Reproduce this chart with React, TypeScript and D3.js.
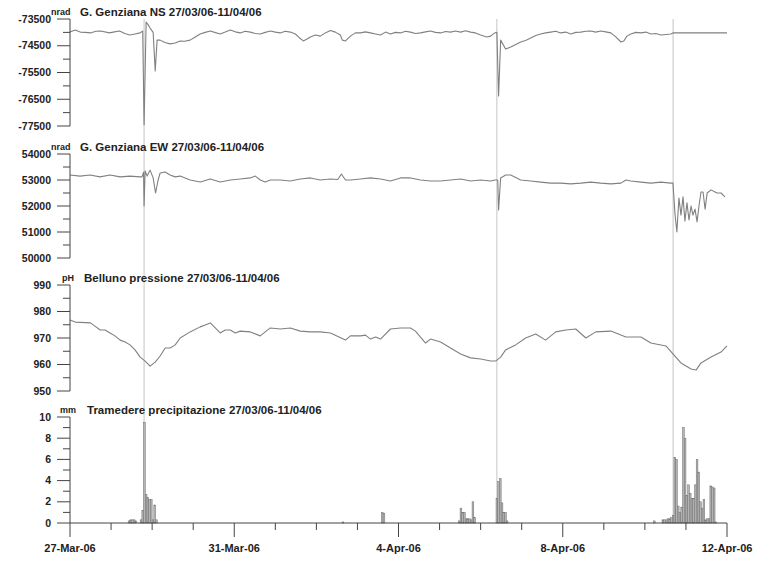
import React from "react";
import * as d3 from "d3";

// time axis: hours since 27-Mar-06 00:00
const START = Date.UTC(2006, 2, 27);
const END = Date.UTC(2006, 3, 12);

const xTickLabels = ["27-Mar-06", "31-Mar-06", "4-Apr-06", "8-Apr-06", "12-Apr-06"];

// vertical marker lines (hours)
const eventHours = [43.3, 249.5, 352.5];

// G. Genziana NS (nrad)
const nsSeries: [number, number][] = [
  [0, -73990], [3, -73910], [6, -73990], [9, -74000], [12, -74020], [15, -73960], [18, -73950],
  [23, -74020], [26, -73980], [29, -73950], [32, -74040], [35, -74100], [38, -74060], [41, -74020],
  [42.5, -73950], [43.3, -77450], [44.5, -73610], [45.7, -73720], [46.8, -73840], [48.6, -74000],
  [49.8, -75440], [50.9, -74290], [52.7, -74290], [55.5, -74380], [58.5, -74430], [61.5, -74400],
  [64.4, -74320], [67, -74330], [70.2, -74290], [73, -74180], [76.1, -74060], [79, -74000],
  [82, -73950], [85, -74010], [87.8, -74060], [90.7, -73990], [93.7, -73910], [96.6, -73980],
  [99.5, -74020], [102.4, -73960], [105.4, -73990], [108.3, -74040], [111.2, -74060],
  [114.1, -74000], [117.1, -73950], [120, -73990], [122.9, -74020], [125.8, -73960],
  [128.8, -73990], [131.7, -74060], [134, -74200], [136.4, -74320], [138.5, -74250],
  [140.5, -74170], [143.4, -74100], [146.3, -74140], [149.2, -74020], [152.2, -73930],
  [155.1, -73990], [158, -74100], [159.2, -74290], [161, -74320], [163.9, -74140],
  [166.8, -74020], [169.8, -74020], [172.7, -73980], [175.6, -74020], [178.5, -74060],
  [181.5, -74100], [184.4, -73990], [187.3, -74060], [190.2, -74000], [193.2, -74020],
  [196.1, -73960], [199, -73990], [201.9, -74040], [204.9, -74020], [207.8, -73980],
  [210.7, -73950], [213.6, -74000], [216.6, -74020], [219.5, -73970], [222.4, -73990],
  [225.3, -73950], [228.3, -73990], [231.2, -73940], [234.1, -73990], [237, -74020],
  [240, -74100], [243.5, -74170], [245.9, -74140], [248.2, -74020], [249.5, -74000],
  [250.5, -76380], [251.7, -74290], [254.6, -74620], [257.6, -74550], [260.5, -74450],
  [263.4, -74360], [266.3, -74300], [269.3, -74210], [272.2, -74120], [275.1, -74060],
  [278, -74020], [281, -73990], [283.9, -73960], [286.8, -74020], [289.7, -73990],
  [292.7, -74060], [295.6, -74000], [298.5, -73990], [301.4, -73960], [304.4, -73950],
  [307.3, -73990], [310.2, -73950], [313.1, -73980], [316.1, -74020], [319, -74170],
  [322, -74360], [323.7, -74320], [325.5, -74140], [327.8, -74060], [330.7, -74000],
  [333.7, -74020], [336.6, -73990], [339.5, -74060], [342.4, -74040], [345.4, -74100],
  [348.3, -74080], [351.2, -74060], [352.4, -74020], [384, -74020],
];

// G. Genziana EW (nrad)
const ewSeries: [number, number][] = [
  [0, 53190], [5.9, 53150], [11.7, 53190], [17.6, 53120], [23.4, 53190], [29.3, 53120],
  [35.1, 53150], [41, 53120], [42.1, 53120], [43, 53300], [43.3, 52000], [43.9, 53350],
  [45.1, 53150], [46.8, 53380], [48.6, 53080], [50, 52500], [51.5, 53000], [52.7, 53270],
  [55.6, 53310], [58.5, 53190], [61.5, 53120], [64.4, 53150], [70.2, 53000], [76.1, 52920],
  [82, 53040], [87.8, 52920], [93.7, 53000], [99.5, 53040], [105.4, 53080], [108.3, 53150],
  [111.2, 53000], [114.1, 52920], [117.1, 53000], [122.9, 53000], [128.8, 52960],
  [134.6, 53040], [140.5, 53080], [146.3, 53000], [152.2, 53040], [156.5, 53020],
  [158.6, 53230], [161, 53000], [163.9, 53000], [169.8, 53040], [175.6, 53080],
  [181.5, 53040], [187.3, 52960], [193.2, 53080], [199, 53080], [204.9, 53000],
  [210.7, 52960], [216.6, 52960], [222.4, 53000], [228.3, 53040], [234.1, 52960],
  [240, 53000], [245.9, 52960], [248.2, 53000], [250, 53000], [250.5, 51850],
  [251.7, 53080], [254.6, 53190], [257.6, 53190], [263.4, 53000], [269.3, 52960],
  [275.1, 52920], [281, 52880], [286.8, 52880], [292.7, 52850], [298.5, 52880],
  [304.4, 52920], [310.2, 52880], [316.1, 52850], [322, 52880], [324.9, 53000],
  [327.8, 52960], [333.7, 52920], [339.5, 52880], [345.4, 52920], [351.2, 52880],
  [352.4, 52880], [353.6, 51700], [354.7, 51000], [355.9, 52310], [357.1, 51650],
  [358.3, 52350], [359.4, 51420], [360.6, 52120], [361.8, 51460], [363, 52000],
  [364.1, 51650], [365.3, 51880], [366.5, 51390], [367.7, 52040], [368.8, 52540],
  [370, 52540], [371.2, 51880], [372.4, 52500], [374.7, 52620], [377, 52540],
  [378.2, 52500], [380.5, 52500], [382.8, 52350],
];

// Belluno pressione (hPa)
const pressureSeries: [number, number][] = [
  [0, 976.8], [3, 976.0], [6, 975.9], [12, 975.7], [14.6, 974.5], [17.6, 973.0], [20.5, 973.0],
  [23.4, 971.9], [26.3, 970.8], [29.3, 969.2], [32.2, 968.5], [35.1, 967.4], [38, 965.5],
  [41, 962.8], [43.9, 961.3], [46.8, 959.4], [49.8, 960.9], [52.7, 963.2], [55.6, 966.2],
  [58.5, 966.2], [61.5, 967.4], [64.4, 970.0], [70.2, 972.3], [76.1, 974.2], [79, 974.9],
  [82, 975.7], [84.9, 973.8], [87.8, 971.9], [90.7, 973.0], [93.7, 973.0], [96.6, 971.9],
  [99.5, 972.6], [105.4, 972.3], [111.2, 970.8], [114.1, 972.3], [117.1, 973.8],
  [122.9, 973.4], [128.8, 973.8], [134.6, 972.6], [140.5, 972.3], [146.3, 972.3],
  [152.2, 971.9], [161, 969.2], [163.9, 970.8], [169.8, 970.8], [172.7, 971.1],
  [175.6, 969.6], [178.6, 970.4], [181.5, 969.6], [187.3, 973.4], [193.2, 973.8],
  [199, 973.8], [201.9, 972.6], [207.8, 968.1], [210.7, 969.6], [216.6, 968.5],
  [222.4, 966.2], [228.3, 964.0], [234.1, 962.5], [240, 962.1], [245.9, 961.3],
  [248.8, 961.3], [251.7, 962.8], [254.6, 965.5], [260.5, 967.4], [266.3, 970.0],
  [272.2, 971.5], [278, 969.2], [283.9, 972.3], [289.8, 973.0], [295.6, 973.4],
  [301.5, 970.0], [307.3, 972.3], [316.1, 972.6], [324.9, 970.4], [333.7, 970.4],
  [339.5, 968.1], [348.3, 967.0], [352.4, 964.0], [357.1, 960.6], [363, 958.3],
  [365.9, 957.9], [368.8, 960.6], [374.7, 962.8], [380.5, 964.7], [384, 967.0],
];

// Tramedere precipitazione, hourly totals (mm), non-zero hours only
const rainSeries: [number, number][] = [
  [34, 0.2], [35, 0.3], [36, 0.3], [37, 0.3], [38, 0.2],
  [41, 0.3], [42, 1.2], [43, 9.5], [44, 2.7], [45, 2.4], [46, 2.2], [47, 2.2], [48, 0.3],
  [49, 1.7], [50, 0.3],
  [159, 0.1], [182, 1.0], [183, 0.9],
  [227, 0.2], [228, 1.4], [229, 1.0], [230, 1.0], [231, 0.4], [232, 0.4], [233, 0.4],
  [234, 0.3], [235, 2.0], [236, 0.5],
  [249, 2.3], [250, 3.9], [251, 4.2], [252, 1.9], [253, 1.0], [254, 1.0], [255, 0.2],
  [341, 0.2], [346, 0.3], [347, 0.3], [348, 0.3], [349, 0.4], [350, 0.4], [351, 0.5],
  [352, 0.7], [353, 6.2], [354, 6.0], [355, 1.6], [356, 1.0], [357, 1.5], [358, 9.0],
  [359, 8.0], [360, 2.6], [361, 3.6], [362, 2.8], [363, 2.3], [364, 2.3], [365, 3.6],
  [366, 6.0], [367, 4.8], [368, 2.0], [369, 1.4], [370, 2.2], [371, 0.3], [372, 0.4],
  [373, 0.4], [374, 3.5], [375, 3.4], [376, 3.3], [377, 0.1],
];

const panels = [
  { key: "ns", unit: "nrad", unitX: 51, title: "G. Genziana NS 27/03/06-11/04/06", titleX: 80,
    domain: [-77500, -73500], major: 1000, top: 19, bottom: 126 },
  { key: "ew", unit: "nrad", unitX: 51, title: "G. Genziana EW 27/03/06-11/04/06", titleX: 80,
    domain: [50000, 54000], major: 1000, top: 154, bottom: 258 },
  { key: "p", unit: "pH", unitX: 62, title: "Belluno pressione 27/03/06-11/04/06", titleX: 84,
    domain: [950, 990], major: 10, top: 285, bottom: 391 },
  { key: "rain", unit: "mm", unitX: 60, title: "Tramedere precipitazione 27/03/06-11/04/06", titleX: 87,
    domain: [0, 10], major: 2, top: 417, bottom: 523 },
];

const lineData: Record<string, [number, number][]> = {
  ns: nsSeries,
  ew: ewSeries,
  p: pressureSeries,
};

const W = 763;
const H = 561;
const X0 = 70;
const X1 = 727;
const FONT = "'Liberation Sans', Arial, sans-serif";
const AXIS = "#444";
const LINE = "#808080";

const hourToDate = (h: number) => new Date(START + h * 3600 * 1000);

export default function App() {
  const x = d3.scaleUtc().domain([new Date(START), new Date(END)]).range([X0, X1]);
  const days = d3.utcDay.range(new Date(START), new Date(END + 1));
  const rainBottom = panels[3].bottom;

  return (
    <svg width={W} height={H} style={{ position: "absolute", left: 0, top: 0, background: "#fff" }}
      fontFamily={FONT}>
      {/* event markers */}
      {eventHours.map((h) => (
        <line key={h} x1={x(hourToDate(h))} x2={x(hourToDate(h))} y1={19} y2={rainBottom}
          stroke="#c4c4c4" strokeWidth={1} />
      ))}

      {panels.map((p) => {
        const y = d3.scaleLinear().domain(p.domain).range([p.bottom, p.top]);
        const majors = d3.range(p.domain[0], p.domain[1] + p.major / 2, p.major);
        const minors = d3.range(p.domain[0] + p.major / 2, p.domain[1], p.major);
        const series = lineData[p.key];
        const path = series
          ? d3.line<[number, number]>()
              .x((d) => x(hourToDate(d[0])))
              .y((d) => y(d[1]))(series)
          : null;
        return (
          <g key={p.key}>
            {path && <path d={path} fill="none" stroke={LINE} strokeWidth={1.1} strokeLinejoin="round" />}
            {p.key === "rain" &&
              rainSeries.map(([h, v]) => {
                const xa = x(hourToDate(h));
                const xb = x(hourToDate(h + 1));
                return (
                  <rect key={h} x={xa} y={y(v)} width={xb - xa} height={y(0) - y(v)}
                    fill="#b4b4b4" stroke="#6e6e6e" strokeWidth={0.5} />
                );
              })}
            <line x1={X0} x2={X0} y1={p.top} y2={p.bottom} stroke={AXIS} strokeWidth={1} />
            {majors.map((v) => (
              <g key={v}>
                <line x1={X0 - 13} x2={X0} y1={y(v)} y2={y(v)} stroke={AXIS} strokeWidth={1} />
                <text x={51} y={y(v)} dy="0.35em" textAnchor="end" fontSize={10.5} fontWeight="bold" fill="#222">
                  {v}
                </text>
              </g>
            ))}
            {minors.map((v) => (
              <line key={v} x1={X0 - 7} x2={X0} y1={y(v)} y2={y(v)} stroke={AXIS} strokeWidth={1} />
            ))}
            <text x={p.unitX} y={p.top - 4} fontSize={9} fontWeight="bold" fill="#222">{p.unit}</text>
            <text x={p.titleX} y={p.top - 3} fontSize={11.5} fontWeight="bold" fill="#222">{p.title}</text>
          </g>
        );
      })}

      {/* time axis */}
      <line x1={X0} x2={X1} y1={rainBottom} y2={rainBottom} stroke={AXIS} strokeWidth={1} />
      {days.map((d, i) => (
        <line key={i} x1={x(d)} x2={x(d)} y1={rainBottom} y2={rainBottom + (i % 4 === 0 ? 14 : 7)}
          stroke={AXIS} strokeWidth={1} />
      ))}
      {days.filter((_, i) => i % 4 === 0).map((d, i) => (
        <text key={i} x={x(d)} y={rainBottom + 29} textAnchor="middle" fontSize={11} fontWeight="bold" fill="#222">
          {xTickLabels[i]}
        </text>
      ))}
    </svg>
  );
}
